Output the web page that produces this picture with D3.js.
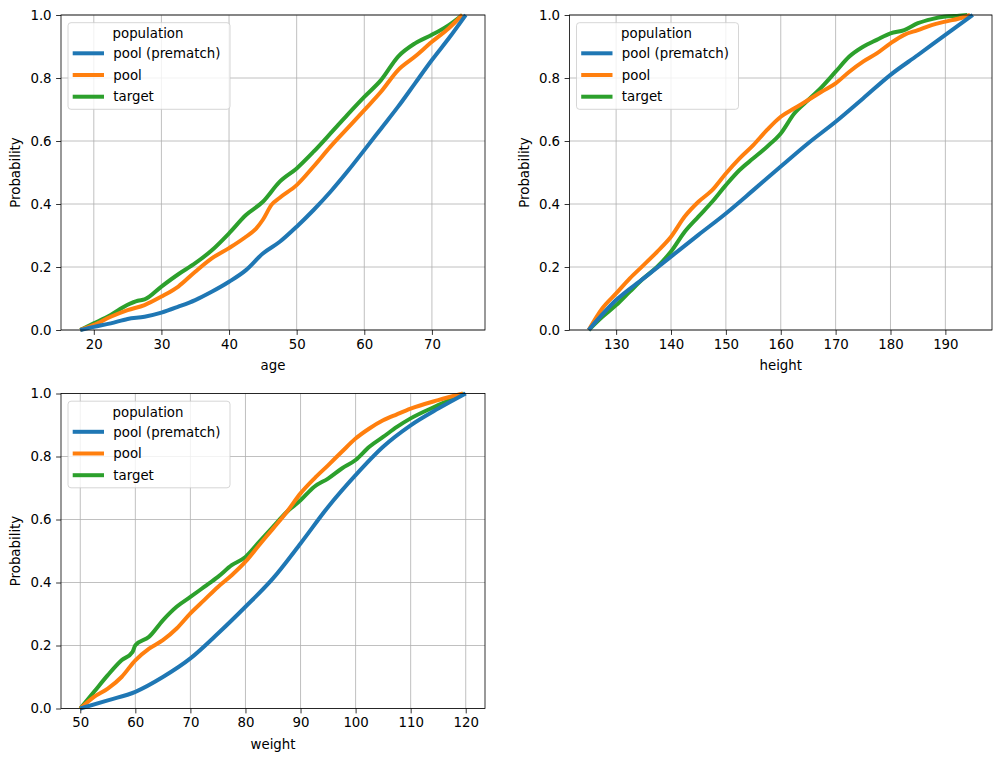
<!DOCTYPE html>
<html><head><meta charset="utf-8">
<script src="https://cdn.jsdelivr.net/npm/d3@7"></script>
<style>
body{margin:0;background:#fff;}
svg{display:block;font-family:"DejaVu Sans",sans-serif;}
</style></head>
<body><svg id="c" width="1001" height="761"></svg>
<script>
// ---- data ----
const seriesNames = ["pool (prematch)", "pool", "target"];
const seriesColors = ["#1f77b4", "#ff7f0e", "#2ca02c"];
const yTicks = [0, 0.2, 0.4, 0.6, 0.8, 1.0];

const ageTicks = [20, 30, 40, 50, 60, 70];
const agePrematch = [[18,0],[20,0.01],[22.5,0.021],[25,0.035],[27.5,0.042],[30,0.055],[32.5,0.074],[35,0.095],[37.5,0.122],[40,0.153],[42.5,0.19],[45,0.243],[47.5,0.28],[50,0.328],[52.5,0.381],[55,0.439],[57.5,0.503],[60,0.571],[62.5,0.64],[65,0.709],[67.5,0.783],[70,0.857],[72.5,0.926],[75,1]];
const agePool = [[18,0],[20,0.016],[22.5,0.042],[25,0.063],[27.5,0.079],[30,0.106],[32.5,0.138],[35,0.185],[37.5,0.228],[40,0.26],[42.5,0.296],[44,0.322],[45,0.35],[46.3,0.398],[47.5,0.42],[50,0.46],[52.5,0.519],[55,0.582],[57.5,0.64],[60,0.698],[62.5,0.757],[65,0.825],[67.5,0.868],[70,0.915],[72.5,0.958],[74.5,1]];
const ageTarget = [[18,0],[20,0.021],[22.5,0.048],[25,0.08],[26.5,0.093],[27.5,0.097],[30,0.138],[32.5,0.177],[35,0.212],[37.5,0.254],[40,0.307],[42.5,0.365],[45,0.407],[47.5,0.471],[50,0.513],[52.5,0.566],[55,0.624],[57.5,0.683],[60,0.74],[62.5,0.794],[65,0.868],[67.5,0.91],[70,0.937],[72.5,0.968],[74.5,1]];

const heightTicks = [130, 140, 150, 160, 170, 180, 190];
const heightPrematch = [[125,0],[130,0.095],[135,0.164],[140,0.233],[145,0.302],[150,0.37],[155,0.444],[160,0.519],[165,0.593],[170,0.661],[175,0.735],[180,0.81],[185,0.873],[190,0.937],[195,1]];
const heightPool = [[125,0],[127.5,0.069],[130,0.116],[132.5,0.164],[135,0.206],[137.5,0.249],[140,0.296],[142.5,0.36],[145,0.407],[147.5,0.444],[150,0.497],[152.5,0.545],[155,0.587],[157.5,0.635],[160,0.677],[162.5,0.704],[165,0.73],[167.5,0.757],[170,0.783],[172.5,0.82],[175,0.852],[177.5,0.878],[180,0.91],[182.5,0.937],[185,0.952],[187.5,0.968],[190,0.979],[192.5,0.989],[194.5,1]];
const heightTarget = [[125,0],[127.5,0.042],[130,0.079],[132.5,0.122],[135,0.164],[137.5,0.201],[140,0.249],[142.5,0.312],[145,0.36],[147.5,0.407],[150,0.46],[152.5,0.508],[155,0.545],[157.5,0.582],[160,0.624],[162.5,0.688],[165,0.73],[167.5,0.772],[170,0.82],[172.5,0.868],[175,0.899],[177.5,0.921],[180,0.942],[182.5,0.952],[185,0.974],[187.5,0.987],[190,0.995],[192.5,0.998],[194,1]];

const weightTicks = [50, 60, 70, 80, 90, 100, 110, 120];
const weightPrematch = [[50,0],[55,0.026],[60,0.053],[65,0.1],[70,0.159],[75,0.238],[80,0.323],[85,0.413],[90,0.524],[95,0.64],[100,0.741],[105,0.831],[110,0.899],[115,0.952],[120,1]];
const weightPool = [[50,0],[52.5,0.037],[55,0.063],[57.5,0.1],[60,0.153],[62.5,0.19],[65,0.217],[67.5,0.254],[70,0.302],[72.5,0.344],[75,0.386],[77.5,0.423],[80,0.466],[82.5,0.519],[85,0.571],[87.5,0.624],[90,0.683],[92.5,0.73],[95,0.772],[97.5,0.815],[100,0.857],[102.5,0.889],[105,0.915],[107.5,0.934],[110,0.952],[115,0.979],[119.5,1]];
const weightTarget = [[50,0],[52.5,0.053],[55,0.106],[57.5,0.153],[59.5,0.18],[60,0.201],[62.5,0.228],[65,0.28],[67.5,0.323],[70,0.354],[72.5,0.386],[75,0.418],[77.5,0.455],[80,0.481],[82.5,0.529],[85,0.577],[87.5,0.624],[90,0.661],[92.5,0.704],[95,0.73],[97.5,0.762],[100,0.789],[102.5,0.831],[105,0.862],[107.5,0.894],[110,0.921],[115,0.963],[119.7,1]];

// ---- drawing ----
const svg = d3.select("#c");
const FS = 13.33;

function panel(box, label, xDomain, xTicks, series) {
  const x = d3.scaleLinear().domain(xDomain).range([box.l, box.r]);
  const y = d3.scaleLinear().domain([0, 1]).range([box.b, box.t]);
  const g = svg.append("g");
  // grid
  g.append("g").selectAll("line").data(xTicks).join("line")
    .attr("x1", d => x(d)).attr("x2", d => x(d)).attr("y1", box.t).attr("y2", box.b)
    .attr("stroke", "#b0b0b0").attr("stroke-width", 0.8);
  g.append("g").selectAll("line").data(yTicks).join("line")
    .attr("x1", box.l).attr("x2", box.r).attr("y1", d => y(d)).attr("y2", d => y(d))
    .attr("stroke", "#b0b0b0").attr("stroke-width", 0.8);
  // lines (reverse order so first series is on top)
  const line = d3.line().x(d => x(d[0])).y(d => y(d[1])).curve(d3.curveMonotoneX);
  const clip = "clip" + Math.round(box.l) + "_" + Math.round(box.t);
  svg.append("clipPath").attr("id", clip).append("rect")
    .attr("x", box.l).attr("y", box.t - 3).attr("width", box.r - box.l).attr("height", box.b - box.t + 6);
  const lg = g.append("g").attr("clip-path", `url(#${clip})`);
  series.map((s, i) => ({s, i})).reverse().forEach(({s, i}) => {
    lg.append("path").attr("d", line(s)).attr("fill", "none")
      .attr("stroke", seriesColors[i]).attr("stroke-width", 4)
      .attr("stroke-linejoin", "round").attr("stroke-linecap", "butt");
  });
  // axes
  const xa = g.append("g").attr("transform", `translate(0,${box.b})`)
    .call(d3.axisBottom(x).tickValues(xTicks).tickFormat(d3.format("d")).tickSizeOuter(0).tickSize(4.9).tickPadding(4.5));
  const ya = g.append("g").attr("transform", `translate(${box.l},0)`)
    .call(d3.axisLeft(y).tickValues(yTicks).tickFormat(d3.format(".1f")).tickSizeOuter(0).tickSize(4.9).tickPadding(4.5));
  [xa, ya].forEach(a => {
    a.select(".domain").remove();
    a.selectAll("text").attr("font-size", FS).attr("font-family", "DejaVu Sans").attr("fill", "#000");
    a.selectAll("line").attr("stroke", "#000").attr("stroke-width", 0.8);
  });
  // frame
  g.append("rect").attr("x", box.l).attr("y", box.t).attr("width", box.r - box.l).attr("height", box.b - box.t)
    .attr("fill", "none").attr("stroke", "#000").attr("stroke-width", 0.8);
  // labels
  g.append("text").attr("x", (box.l + box.r) / 2).attr("y", box.b + 40)
    .attr("text-anchor", "middle").attr("font-size", FS).text(label);
  g.append("text").attr("transform", `translate(${box.l - 41},${(box.t + box.b) / 2}) rotate(-90)`)
    .attr("text-anchor", "middle").attr("font-size", FS).text("Probability");
  // legend
  const lx = box.l + 7, ly = box.t + 7.7;
  const leg = g.append("g");
  leg.append("rect").attr("x", lx).attr("y", ly).attr("width", 162).attr("height", 86.6)
    .attr("rx", 3).attr("fill", "#fff").attr("fill-opacity", 0.8).attr("stroke", "#cccccc").attr("stroke-width", 0.8);
  leg.append("text").attr("x", lx + 80).attr("y", ly + 15.5).attr("text-anchor", "middle")
    .attr("font-size", FS).text("population");
  seriesNames.forEach((n, i) => {
    const yy = ly + 30.6 + i * 21.7;
    leg.append("line").attr("x1", lx + 4.7).attr("x2", lx + 36).attr("y1", yy).attr("y2", yy)
      .attr("stroke", seriesColors[i]).attr("stroke-width", 4);
    leg.append("text").attr("x", lx + 45.3).attr("y", yy + 4.7).attr("font-size", FS).text(n);
  });
}

panel({l: 61, r: 485, t: 15, b: 330}, "age", [15.15, 77.85], ageTicks, [agePrematch, agePool, ageTarget]);
panel({l: 569.5, r: 992, t: 15, b: 330}, "height", [121.5, 198.5], heightTicks, [heightPrematch, heightPool, heightTarget]);
panel({l: 61, r: 485, t: 393.5, b: 708.5}, "weight", [46.5, 123.5], weightTicks, [weightPrematch, weightPool, weightTarget]);
</script></body></html>
